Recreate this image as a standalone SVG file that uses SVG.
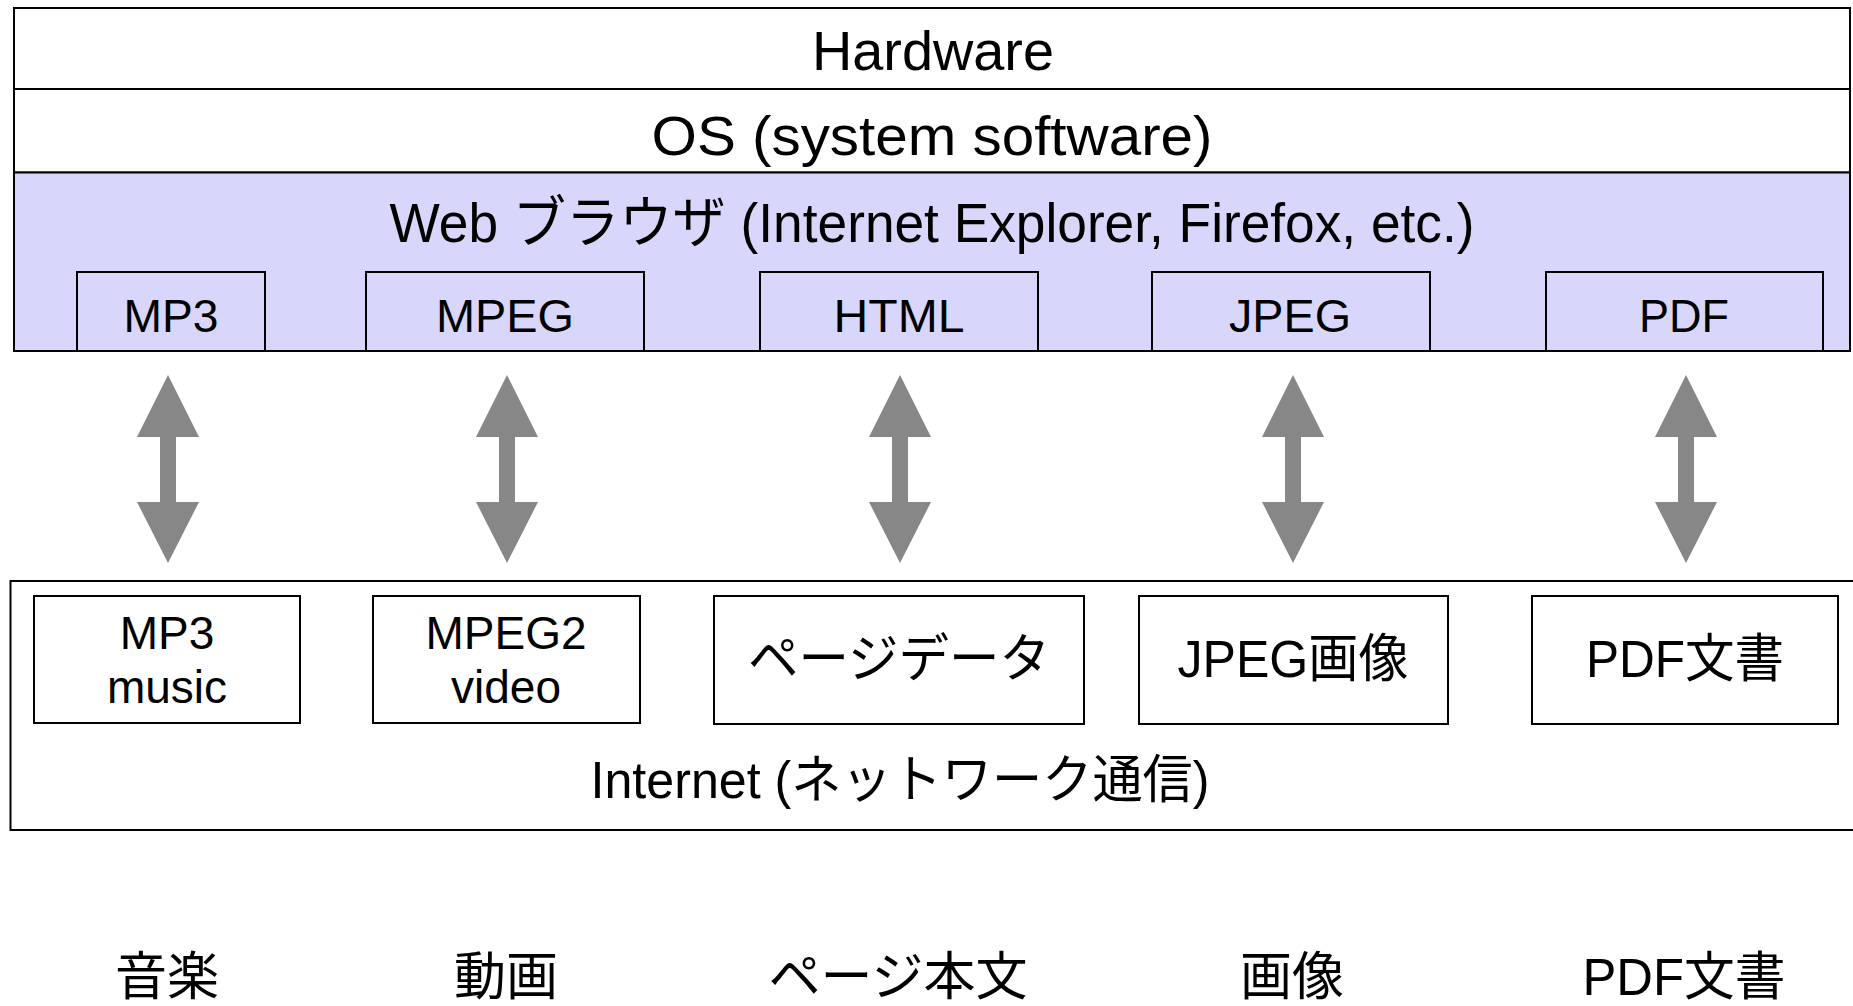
<svg xmlns="http://www.w3.org/2000/svg" width="1853" height="1006" viewBox="0 0 1853 1006">
<defs>
<style>
text{font-family:"Liberation Sans","Noto Sans CJK JP",sans-serif;fill:#000;text-anchor:middle}
.box{fill:none;stroke:#000;stroke-width:2}
.pbox{fill:#d8d7fb;stroke:#000;stroke-width:2}
.arr{fill:#878787}
.l{font-size:56px}
.m{font-size:46px}
.b{font-size:52px}
</style>
</defs>
<rect width="1853" height="1006" fill="#fff"/>
<g id="hardware">
<rect x="14" y="8" width="1836" height="81" class="box"/>
<text x="933" y="70" class="l" textLength="242" lengthAdjust="spacingAndGlyphs">Hardware</text>
</g>
<g id="os">
<rect x="14" y="89" width="1836" height="83.5" class="box"/>
<text x="932" y="155" class="l" font-size="58" textLength="561" lengthAdjust="spacingAndGlyphs">OS (system software)</text>
</g>
<g id="browser">
<rect x="14" y="172.5" width="1836" height="178.5" class="pbox"/>
<text x="932" y="242" class="l" font-size="54" textLength="1085" lengthAdjust="spacingAndGlyphs">Web ブラウザ (Internet Explorer, Firefox, etc.)</text>
</g>
<g id="mp3">
<rect x="77" y="272" width="188" height="79" class="pbox"/>
<text x="171" y="332" class="m" textLength="95" lengthAdjust="spacingAndGlyphs">MP3</text>
</g>
<g id="mpeg">
<rect x="366" y="272" width="278" height="79" class="pbox"/>
<text x="505" y="332" class="m" textLength="138" lengthAdjust="spacingAndGlyphs">MPEG</text>
</g>
<g id="html">
<rect x="760" y="272" width="278" height="79" class="pbox"/>
<text x="899" y="332" class="m" textLength="131" lengthAdjust="spacingAndGlyphs">HTML</text>
</g>
<g id="jpeg">
<rect x="1152" y="272" width="278" height="79" class="pbox"/>
<text x="1290" y="332" class="m" textLength="122" lengthAdjust="spacingAndGlyphs">JPEG</text>
</g>
<g id="pdf">
<rect x="1546" y="272" width="277" height="79" class="pbox"/>
<text x="1684" y="332" class="m" textLength="90" lengthAdjust="spacingAndGlyphs">PDF</text>
</g>
<g id="connectors">
<path class="arr" d="M168 375 L199 437 L176 437 L176 502 L199 502 L168 563 L137 502 L160 502 L160 437 L137 437 Z"/>
<path class="arr" d="M507 375 L538 437 L515 437 L515 502 L538 502 L507 563 L476 502 L499 502 L499 437 L476 437 Z"/>
<path class="arr" d="M900 375 L931 437 L908 437 L908 502 L931 502 L900 563 L869 502 L892 502 L892 437 L869 437 Z"/>
<path class="arr" d="M1293 375 L1324 437 L1301 437 L1301 502 L1324 502 L1293 563 L1262 502 L1285 502 L1285 437 L1262 437 Z"/>
<path class="arr" d="M1686 375 L1717 437 L1694 437 L1694 502 L1717 502 L1686 563 L1655 502 L1678 502 L1678 437 L1655 437 Z"/>
</g>
<g id="internet">
<rect x="10.5" y="581" width="1860" height="249" class="box"/>
<text x="900" y="798" class="b" font-size="50" textLength="619" lengthAdjust="spacingAndGlyphs">Internet (ネットワーク通信)</text>
</g>
<g id="mp3music">
<rect x="34" y="596" width="266" height="127" class="box"/>
<text x="167" y="649" class="m">MP3</text>
<text x="167" y="703" class="m">music</text>
</g>
<g id="mpeg2video">
<rect x="373" y="596" width="267" height="127" class="box"/>
<text x="506" y="649" class="m">MPEG2</text>
<text x="506" y="703" class="m">video</text>
</g>
<g id="pagedata">
<rect x="714" y="596" width="370" height="128" class="box"/>
<text x="899" y="677" class="b" font-size="50" textLength="302" lengthAdjust="spacingAndGlyphs">ページデータ</text>
</g>
<g id="jpegimage">
<rect x="1139" y="596" width="309" height="128" class="box"/>
<text x="1293" y="677" class="b" font-size="50" textLength="231" lengthAdjust="spacingAndGlyphs">JPEG画像</text>
</g>
<g id="pdfdoc">
<rect x="1532" y="596" width="306" height="128" class="box"/>
<text x="1685" y="677" class="b" font-size="50" textLength="198" lengthAdjust="spacingAndGlyphs">PDF文書</text>
</g>
<g id="labels">
<text x="167" y="995" class="b">音楽</text>
<text x="506" y="995" class="b">動画</text>
<text x="898" y="995" class="b">ページ本文</text>
<text x="1292" y="995" class="b">画像</text>
<text x="1684" y="995" class="b" textLength="203" lengthAdjust="spacingAndGlyphs">PDF文書</text>
</g>
</svg>
